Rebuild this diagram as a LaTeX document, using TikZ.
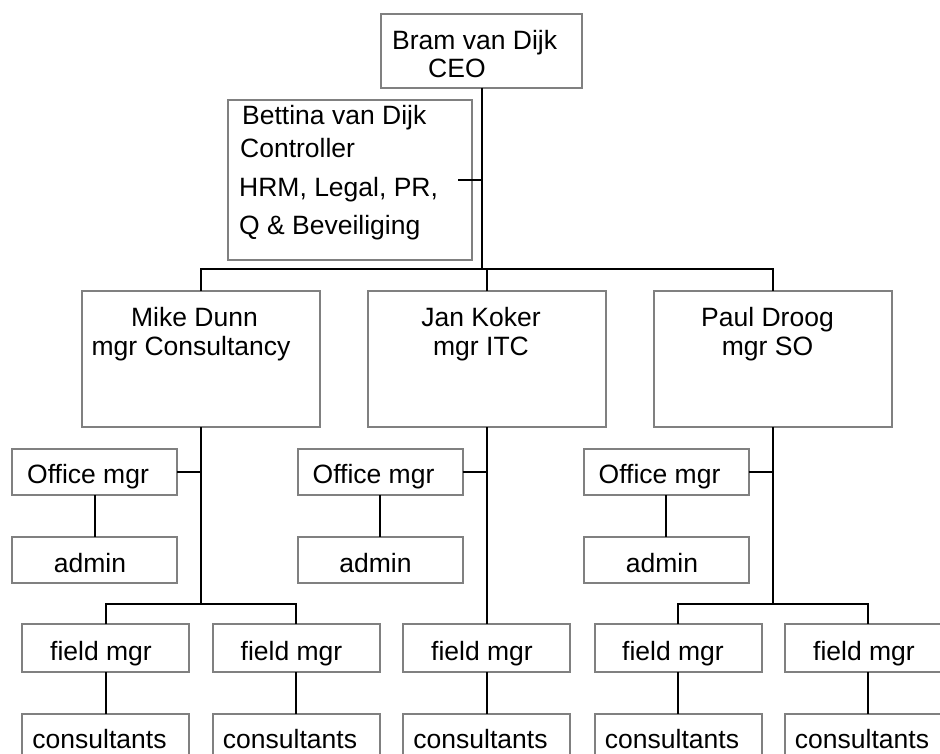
\documentclass[tikz,border=0pt]{standalone}
\usepackage{fontspec}
\setmainfont{Liberation Sans}
\definecolor{boxgray}{RGB}{128,128,128}
\begin{document}
\begin{tikzpicture}[x=1pt,y=-1pt,
  box/.style={draw=boxgray,line width=2pt,inner sep=0pt,outer sep=0pt},
  bigbox/.style={box,minimum width=238pt,minimum height=136pt},
  officebox/.style={box,minimum width=165pt,minimum height=46pt},
  fieldbox/.style={box,minimum width=167pt,minimum height=48pt},
  wire/.style={draw=black,line width=2pt},
  thinwire/.style={draw=black,line width=1.1pt},
  txt/.style={font=\fontsize{26.5}{29}\selectfont,inner sep=0pt,anchor=base}]
\useasboundingbox (0,0) rectangle (940,754);
\clip (0,0) rectangle (940,754);

% boxes
\node[box,minimum width=201pt,minimum height=74pt] (ceo) at (481.5,51) {};
\node[box,minimum width=244pt,minimum height=160pt] (ctrl) at (350,180) {};
\node[bigbox] (m1) at (201,359) {};
\node[bigbox] (j1) at (486.5,359) {};
\node[bigbox] (p1) at (773,359) {};
\node[officebox] (o1) at (94.5,472) {};
\node[officebox] (o2) at (380,472) {};
\node[officebox] (o3) at (666,472) {};
\node[officebox] (a1) at (94.5,560) {};
\node[officebox] (a2) at (380,560) {};
\node[officebox] (a3) at (666,560) {};
\node[fieldbox] (f1) at (105.5,648) {};
\node[fieldbox] (f2) at (296,648) {};
\node[fieldbox] (f3) at (486.5,648) {};
\node[fieldbox] (f4) at (678,648) {};
\node[fieldbox] (f5) at (868,648) {};
\node[fieldbox] (c1) at (105.5,738) {};
\node[fieldbox] (c2) at (296,738) {};
\node[fieldbox] (c3) at (486.5,738) {};
\node[fieldbox] (c4) at (678,738) {};
\node[fieldbox] (c5) at (868,738) {};

% texts
\node[txt,anchor=base west] at (392,50) {Bram van Dijk};
\node[txt,anchor=base west] at (428,78) {CEO};
\node[txt,anchor=base west] at (242,125) {Bettina van Dijk};
\node[txt,anchor=base west] at (240,158) {Controller};
\node[txt,anchor=base west] at (239,197) {HRM, Legal, PR,};
\node[txt,anchor=base west] at (239,235) {Q \& Beveiliging};
\node[txt] at (194.5,326) {Mike Dunn};
\node[txt] at (191,355) {mgr Consultancy};
\node[txt] at (481,326) {Jan Koker};
\node[txt] at (481,355) {mgr ITC};
\node[txt] at (767.5,326) {Paul Droog};
\node[txt] at (767.5,355) {mgr SO};
\node[txt] at (88,483) {Office mgr};
\node[txt] at (373.5,483) {Office mgr};
\node[txt] at (659.5,483) {Office mgr};
\node[txt] at (90,572) {admin};
\node[txt] at (375.5,572) {admin};
\node[txt] at (662,572) {admin};
\node[txt] at (101,660) {field mgr};
\node[txt] at (291.5,660) {field mgr};
\node[txt] at (482,660) {field mgr};
\node[txt] at (673,660) {field mgr};
\node[txt] at (864,660) {field mgr};
\node[txt] at (99.5,748) {consultants};
\node[txt] at (290,748) {consultants};
\node[txt] at (480.5,748) {consultants};
\node[txt] at (672,748) {consultants};
\node[txt] at (862,748) {consultants};

% junction coordinates
\coordinate (bus) at (201,269);
\coordinate (tick) at (458,180);
\coordinate (fbus) at (201,604);

% connectors
\draw[wire] (ceo.south) -- (ceo.south |- bus);
\draw[thinwire] (tick) -- (tick -| ceo.south);
\draw[wire] (m1.north) -- (m1.north |- bus) -- (p1.north |- bus) -- (p1.north);
\draw[wire] (j1.north) -- (j1.north |- bus);

\draw[wire] (m1.south) -- (m1.south |- fbus);
\draw[wire] (o1.east) -- (o1.east -| m1.south);
\draw[wire] (o1.south) -- (a1.north);
\draw[wire] (f1.north) -- (f1.north |- fbus) -- (f2.north |- fbus) -- (f2.north);
\draw[wire] (f1.south) -- (c1.north);
\draw[wire] (f2.south) -- (c2.north);

\draw[wire] (j1.south) -- (f3.north);
\draw[wire] (o2.east) -- (o2.east -| j1.south);
\draw[wire] (o2.south) -- (a2.north);
\draw[wire] (f3.south) -- (c3.north);

\draw[wire] (p1.south) -- (p1.south |- fbus);
\draw[wire] (o3.east) -- (o3.east -| p1.south);
\draw[wire] (o3.south) -- (a3.north);
\draw[wire] (f4.north) -- (f4.north |- fbus) -- (f5.north |- fbus) -- (f5.north);
\draw[wire] (f4.south) -- (c4.north);
\draw[wire] (f5.south) -- (c5.north);
\end{tikzpicture}
\end{document}
